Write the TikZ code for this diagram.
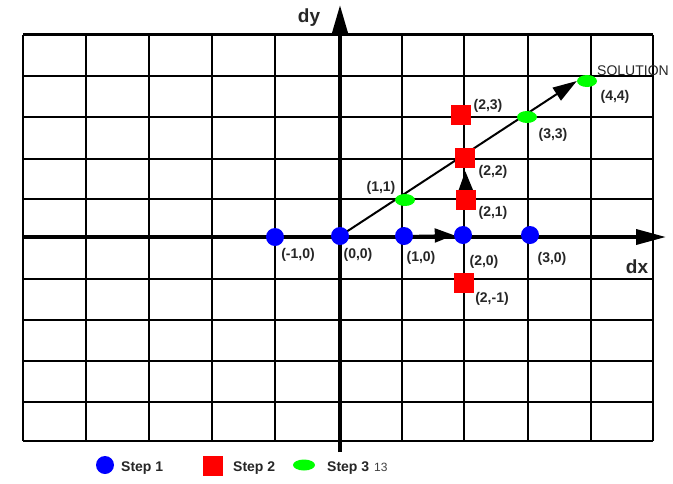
\documentclass[tikz,border=0pt]{standalone}
\usepackage{fontspec}
\setmainfont{Liberation Sans}
\usetikzlibrary{arrows.meta,shapes.geometric,backgrounds}
\definecolor{mkblue}{RGB}{0,0,255}
\definecolor{mkred}{RGB}{255,0,0}
\definecolor{mkgreen}{RGB}{0,255,0}
\tikzset{
  gridline/.style={line width=2.3pt,black},
  axisline/.style={line width=3.6pt,black},
  conn/.style={line width=2pt,black,-{Triangle[length=19pt,width=14pt]}},
  bluedot/.style={circle,fill=mkblue,minimum size=18pt,inner sep=0pt},
  redsq/.style={rectangle,fill=mkred,minimum size=20pt,inner sep=0pt},
  greendot/.style={ellipse,fill=mkgreen,minimum width=20pt,minimum height=12pt,inner sep=0pt},
  lbl/.style={font=\fontsize{14}{14}\selectfont\bfseries,text=black!85,inner sep=0pt},
  axlbl/.style={font=\fontsize{19}{19}\selectfont\bfseries,text=black!85,inner sep=0pt},
}
\begin{document}
\begin{tikzpicture}[x=1pt,y=-1pt]
\useasboundingbox (0,0) rectangle (673,483);
% markers
\node[bluedot] (bm1) at (275,237) {};
\node[bluedot] (b0) at (340,236) {};
\node[bluedot] (b1) at (404,236) {};
\node[bluedot] (b2) at (463,235) {};
\node[bluedot] (b3) at (530,235) {};
\node[redsq] (r2m1) at (464,283) {};
\node[redsq] (r21) at (466,200) {};
\node[redsq] (r22) at (465,158) {};
\node[redsq] (r23) at (461,115) {};
\node[greendot] (g11) at (405,200) {};
\node[greendot] (g33) at (527,117) {};
\node[greendot] (g44) at (587,81) {};
% labels
\node[lbl] (lm1) at (298,255) {(-1,0)};
\node[lbl] (l00) at (358,255) {(0,0)};
\node[lbl] (l10) at (421,258) {(1,0)};
\node[lbl] (l20) at (484,262) {(2,0)};
\node[lbl] (l30) at (552,259) {(3,0)};
\node[lbl] (l2m1) at (492,299) {(2,-1)};
\node[lbl] (l11) at (381,188) {(1,1)};
\node[lbl] (l21) at (493,213) {(2,1)};
\node[lbl] (l22) at (493,172) {(2,2)};
\node[lbl] (l23) at (488,106) {(2,3)};
\node[lbl] (l33) at (553,135) {(3,3)};
\node[lbl] (l44) at (615,97) {(4,4)};
\node[font=\fontsize{14}{14}\selectfont,text=black!85,anchor=west,inner sep=0pt] (sol) at (597,71) {SOLUTION};
\node[axlbl] (ldx) at (637,267) {dx};
\node[axlbl] (ldy) at (309,18) {dy};
% legend
\node[bluedot] (lgb) at (105,465) {};
\node[lbl,anchor=base west] (lgbt) at (121,471) {Step 1};
\node[redsq] (lgr) at (213,466) {};
\node[lbl,anchor=base west] (lgrt) at (233,471) {Step 2};
\node[greendot,minimum width=22pt,minimum height=11pt] (lgg) at (304,465) {};
\node[lbl,anchor=base west] (lggt) at (327,471) {Step 3};
\node[font=\fontsize{12}{12}\selectfont,text=black!75,anchor=base west,inner sep=0pt] (pg) at (374,471) {13};
\begin{scope}[on background layer]
  \fill[white] (0,0) rectangle (673,483);
  % grid
  \foreach \x in {23,86,149,212,275,402,464,528,591,653}
    \draw[gridline] (\x,34.5) -- (\x,441);
  \foreach \y in {34.5,76,117,159,199,279,320,361,402,441}
    \draw[gridline] (23,\y) -- (653,\y);
  % axes
  \coordinate (xl) at (23,237);
  \coordinate (xr) at (666,237);
  \coordinate (yb) at (340,452);
  \coordinate (yt) at (340,5);
  \draw[axisline,-{Triangle[length=30pt,width=15pt]}] (xl) -- (xr);
  \draw[axisline,-{Triangle[length=28pt,width=15pt]}] (yb) -- (yt);
  % connectors
  \draw[conn,-{Triangle[length=24pt,width=15pt]}] (b0.center) -- (g44.west);
  \draw[conn] (b1) -- (b2);
  \draw[conn,shorten >=3pt] (r21) -- (r22);
\end{scope}
\end{tikzpicture}
\end{document}
